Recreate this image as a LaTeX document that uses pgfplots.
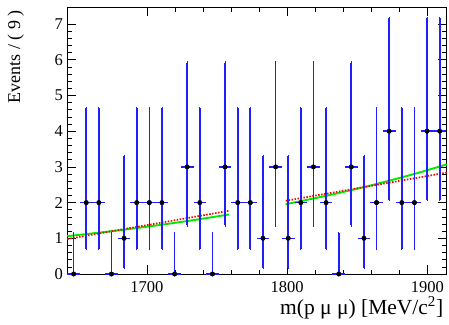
\documentclass[border=0pt]{standalone}
\usepackage{fontspec}
\setmainfont{Liberation Serif}
\usepackage{pgfplots}
\pgfplotsset{compat=1.18}
\usepackage{pgfplotstable}
\definecolor{rootgreen}{RGB}{0,235,0}
\definecolor{rootblue}{RGB}{30,30,255}
\pgfplotstableread{
x y ep em
1647.8 0 1.148 0
1656.8 2 2.638 1.292
1665.8 2 2.638 1.292
1674.8 0 1.148 0
1683.8 1 2.299 0.827
1692.8 2 2.638 1.292
1701.8 2 2.638 1.292
1710.8 2 2.638 1.292
1719.8 0 1.148 0
1728.8 3 2.918 1.633
1737.8 2 2.638 1.292
1746.8 0 1.148 0
1755.8 3 2.918 1.633
1764.8 2 2.638 1.292
1773.8 2 2.638 1.292
1782.8 1 2.299 0.827
1791.8 3 2.918 1.633
1800.8 1 2.299 0.827
1809.8 2 2.638 1.292
1818.8 3 2.918 1.633
1827.8 2 2.638 1.292
1836.8 0 1.148 0
1845.8 3 2.918 1.633
1854.8 1 2.299 0.827
1863.8 2 2.638 1.292
1872.8 4 3.163 1.914
1881.8 2 2.638 1.292
1890.8 2 2.638 1.292
1899.8 4 3.163 1.914
1908.8 4 3.163 1.914
}\data
\begin{document}
\begin{tikzpicture}
\useasboundingbox (-67.3pt,-50pt) rectangle (381.7pt,274pt);
\begin{axis}[
  at={(0,0)}, anchor=south west, scale only axis,
  width=379.4pt, height=266.7pt,
  xmin=1643.3, xmax=1913.8, ymin=0, ymax=7.47,
  axis line style={line width=0.8pt},
  tick align=inside, tick pos=both,
  xtick={1700,1800,1900}, ytick={0,1,...,7},
  minor x tick num=4, minor y tick num=4,
  major tick length=9pt, minor tick length=4.5pt,
  tick style={line width=0.6pt, black},
  /pgf/number format/assume math mode=true,
  /pgf/number format/1000 sep={},
  ticklabel style={font=\fontsize{16.5}{19}\selectfont},
  xticklabel style={yshift=-4pt},
  yticklabel style={xshift=-1pt},
  xlabel={m(p μ μ) [MeV/c\textsuperscript{2}]},
  ylabel={Events / ( 9 )},
  xlabel style={at={(axis description cs:1.0,-0.15)}, anchor=base east, font=\fontsize{21.5}{24}\selectfont},
  ylabel style={at={(axis description cs:-0.136,1.002)}, anchor=east, font=\fontsize{18}{20}\selectfont},
  clip=false,
]
\addplot[rootgreen, line width=1.9pt, smooth] coordinates {(1643.3,1.060) (1672,1.186) (1700,1.324) (1730,1.490) (1758.5,1.667)};
\addplot[rootgreen, line width=1.9pt, smooth] coordinates {(1799,1.955) (1830,2.208) (1860,2.484) (1890,2.795) (1913.8,3.07)};
\addplot[red, line width=1.7pt, dash pattern=on 1.5pt off 1.5pt] coordinates {(1643.3,0.98) (1758.5,1.77)};
\addplot[red, line width=1.7pt, dash pattern=on 1.5pt off 1.5pt] coordinates {(1799,2.05) (1913.8,2.84)};
\addplot[rootblue, only marks, mark=none,
  error bars/.cd, y dir=both, y explicit, error mark=-,
  error bar style={rootblue, line width=1.7pt},
  error mark options={rootblue, mark size=1.4pt, line width=0.9pt}]
  table[x=x, y=y, y error plus=ep, y error minus=em] {\data};
\addplot[rootblue, only marks, mark=none,
  error bars/.cd, x dir=both, x fixed=4.5, error mark=none,
  error bar style={rootblue, line width=1.5pt}]
  table[x=x, y=y] {\data};
\addplot[black, only marks, mark=*, mark size=2.2pt, mark options={fill=black}]
  table[x=x, y=y] {\data};
\end{axis}
\end{tikzpicture}
\end{document}
